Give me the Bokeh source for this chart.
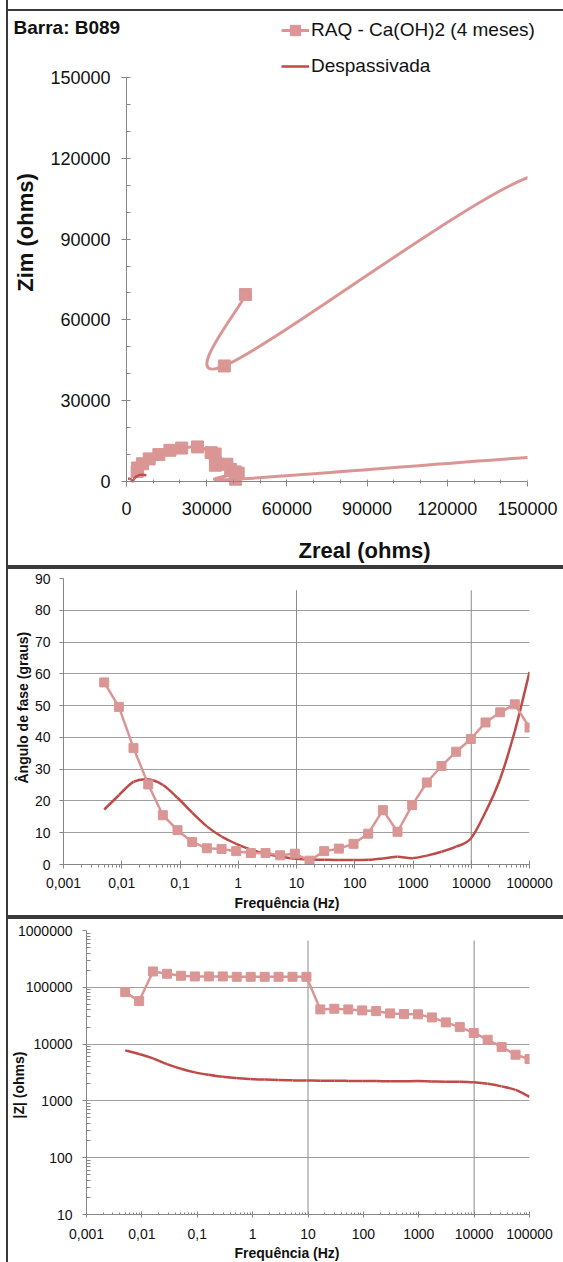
import numpy as np
from bokeh.plotting import figure
from bokeh.models import (FixedTicker, Legend, LegendItem, Title, Range1d, Label,
                          BoxAnnotation, ColumnDataSource, CDSView, BooleanFilter)
from bokeh.layouts import column
from bokeh.embed import file_html
from bokeh.resources import INLINE

FONT = "Liberation Sans"
PINK = "#DA9694"
RED = "#BE4B48"
AXIS_GRAY = "#868686"
GRID_GRAY = "#a0a0a0"
INK = "#3a3a3a"

# ---- impedance data (30 frequencies, low to high) ----
freq = [0.005, 0.00893, 0.0159, 0.0285, 0.0508, 0.0907, 0.162, 0.289, 0.517, 0.923,
        1.65, 2.94, 5.25, 9.37, 16.7, 29.9, 53.4, 95.3, 170, 304,
        542, 968, 1728, 3085, 5510, 9840, 17570, 31370, 55990, 100000]

raq_phase = [57.3, 49.6, 36.7, 25.2, 15.5, 10.8, 7.1, 5.1, 4.9, 4.2,
             3.6, 3.6, 2.9, 3.4, 1.2, 4.2, 5.0, 6.5, 9.7, 17.1,
             10.3, 18.7, 25.8, 31.0, 35.5, 39.5, 44.7, 47.9, 50.4, 43.1]
raq_modz = [82400, 57200, 190000, 173000, 159500, 155300, 155300, 155300, 153000, 153000,
            153000, 153000, 153000, 153000, 40800, 41900, 40800, 39200, 38100, 34700,
            33800, 33400, 29500, 24100, 19950, 15700, 11950, 8870, 6510, 5460]
raq_zreal = [44500, 36600, 152300, 156500, 153700, 152500, 154100, 154700, 152400, 152600,
             152700, 152700, 152800, 152700, 40790, 41790, 40650, 38950, 37560, 33170,
             33260, 31640, 26560, 20660, 16240, 12110, 8490, 5950, 4150, 3990]
raq_zim = [69400, 42900, 113500, 73700, 42600, 29100, 19200, 13800, 13100, 11200,
           9600, 9600, 7700, 9100, 850, 3070, 3560, 4440, 6420, 10200,
           6040, 10710, 12840, 12410, 11580, 9990, 8400, 6580, 5020, 3730]

desp_phase = [17.3, 21.8, 26.0, 26.8, 25.0, 21.0, 16.3, 12.0, 8.8, 6.5,
              4.7, 3.4, 2.5, 1.8, 1.6, 1.5, 1.4, 1.4, 1.5, 1.9,
              2.4, 2.0, 2.8, 4.0, 5.6, 8.2, 16.5, 27.0, 42.0, 60.6]
desp_modz = [7760, 6700, 5600, 4450, 3680, 3180, 2880, 2650, 2530, 2430,
             2370, 2330, 2300, 2280, 2270, 2260, 2250, 2240, 2230, 2220,
             2220, 2230, 2200, 2180, 2170, 2120, 2000, 1800, 1560, 1180]
desp_zreal = [7410, 6220, 5030, 3970, 3340, 2970, 2760, 2590, 2500, 2410,
              2360, 2330, 2300, 2280, 2270, 2260, 2250, 2240, 2230, 2220,
              2220, 2230, 2200, 2170, 2160, 2100, 1920, 1610, 1160, 580]
desp_zim = [2310, 2490, 2450, 2010, 1560, 1140, 810, 550, 390, 280,
            190, 140, 100, 70, 60, 60, 55, 55, 60, 70,
            90, 80, 110, 150, 210, 300, 570, 820, 1040, 1030]

# ---- axis ticks and labels ----
nyq_ticks = [0, 30000, 60000, 90000, 120000, 150000]
nyq_labels = ["0", "30000", "60000", "90000", "120000", "150000"]
nyq_minor = list(range(0, 150001, 10000))

freq_ticks = [0.001, 0.01, 0.1, 1, 10, 100, 1000, 10000, 100000]
freq_labels = ["0,001", "0,01", "0,1", "1", "10", "100", "1000", "10000", "100000"]
freq_minor = [k * 10.0 ** d for d in range(-3, 5) for k in range(2, 10)]

phase_ticks = [0, 10, 20, 30, 40, 50, 60, 70, 80, 90]
modz_ticks = [10, 100, 1000, 10000, 100000, 1000000]
modz_labels = ["10", "100", "1000", "10000", "100000", "1000000"]
modz_minor = [k * 10.0 ** d for d in range(1, 6) for k in range(2, 10)]

guide_freqs = [10, 10000]
phase_guide_top = 86.3
modz_guide_top = 667000


def smooth_segments(x, y, logx=False, logy=False):
    """Cubic Bezier pieces (Catmull-Rom tangents) passing through every point."""
    fx = np.log10(x) if logx else np.asarray(x, float)
    fy = np.log10(y) if logy else np.asarray(y, float)
    P = np.column_stack([fx, fy])
    prev = np.vstack([P[:1], P[:-1]])
    nxt = np.vstack([P[1:], P[-1:]])
    tan = (nxt - prev) / 6.0
    a, b = P[:-1], P[1:]
    c0, c1 = a + tan[:-1], b - tan[1:]
    bx = (lambda v: 10 ** v) if logx else (lambda v: v)
    by = (lambda v: 10 ** v) if logy else (lambda v: v)
    return dict(x0=bx(a[:, 0]), y0=by(a[:, 1]), x1=bx(b[:, 0]), y1=by(b[:, 1]),
                cx0=bx(c0[:, 0]), cy0=by(c0[:, 1]), cx1=bx(c1[:, 0]), cy1=by(c1[:, 1]))


def panel_border(height, top_line=None, bottom_line=None):
    grad = f"linear-gradient({INK},{INK})"
    imgs, sizes, pos = [grad], [f"2px {height}px"], ["6px 0px"]
    if top_line is not None:
        imgs.append(grad); sizes.append("560px 2px"); pos.append(f"6px {top_line}px")
    if bottom_line is not None:
        imgs.append(grad); sizes.append("560px 2px"); pos.append(f"6px {bottom_line}px")
    return {"background-image": ", ".join(imgs), "background-size": ", ".join(sizes),
            "background-position": ", ".join(pos), "background-repeat": "no-repeat"}


def style_axis(ax, size, tin, tout, min_in, min_out, standoff):
    ax.axis_line_color = AXIS_GRAY
    ax.major_tick_line_color = AXIS_GRAY
    ax.minor_tick_line_color = AXIS_GRAY
    ax.major_tick_in = tin
    ax.major_tick_out = tout
    ax.minor_tick_in = min_in
    ax.minor_tick_out = min_out
    ax.major_label_standoff = standoff
    ax.major_label_text_font = FONT
    ax.major_label_text_font_size = size
    ax.major_label_text_color = "#111111"


def axis_title(text, size, offset, standoff):
    return Title(text=text, align="left", offset=offset, standoff=standoff,
                 text_font=FONT, text_font_size=size, text_font_style="bold",
                 text_color="#111111")


def panel_text(text, sx, sy, size, bold=False, angle=0, align="left"):
    # sx, sy: pixel position inside the panel, measured from its top-left corner
    return Label(x=sx - FR_LEFT, y=FR_BOTTOM - sy, x_units="screen", y_units="screen",
                 text=text, angle=angle, angle_units="deg", text_align=align,
                 text_baseline="middle", text_font=FONT, text_font_size=size,
                 text_font_style="bold" if bold else "normal", text_color="#111111")


common = dict(output_backend="svg", toolbar_location=None, tools="",
              background_fill_color=None, border_fill_color=None, frame_align=False)

# ---- Nyquist panel ----
# The plotting area fills the whole panel so that the heading, the key and the
# axis titles sit inside it; both axes are pinned at zero and stop at 150000.
NYQ_MAX = nyq_ticks[-1]
FR_LEFT, FR_TOP, FR_BOTTOM = 8, 11, 563   # plotting area inside the 563 x 567 panel
ZERO_X, ZERO_Y = 126, 481                 # pixel position of Zreal = 0 / Zim = 0
AX_W, AX_H = 401, 404                     # pixels spanned by 0..150000 on each axis
FR_W, FR_H = 563 - FR_LEFT, FR_BOTTOM - FR_TOP
ux, uy = NYQ_MAX / AX_W, NYQ_MAX / AX_H
p1 = figure(frame_width=FR_W, frame_height=FR_H, min_border_left=FR_LEFT, min_border_right=0,
            min_border_top=FR_TOP, min_border_bottom=567 - FR_BOTTOM,
            x_range=Range1d(-(ZERO_X - FR_LEFT) * ux, (FR_LEFT + FR_W - ZERO_X) * ux),
            y_range=Range1d(-(FR_BOTTOM - ZERO_Y) * uy, (ZERO_Y - FR_TOP) * uy), **common)
p1.styles = panel_border(567, top_line=9, bottom_line=565)
p1.outline_line_color = None
p1.grid.visible = False
p1.xaxis.ticker = FixedTicker(ticks=nyq_ticks, minor_ticks=nyq_minor)
p1.yaxis.ticker = FixedTicker(ticks=nyq_ticks, minor_ticks=nyq_minor)
p1.xaxis.major_label_overrides = dict(zip(nyq_ticks, nyq_labels))
p1.yaxis.major_label_overrides = dict(zip(nyq_ticks, nyq_labels))
p1.xaxis.bounds = (0, NYQ_MAX)
p1.yaxis.bounds = (0, NYQ_MAX)
p1.xaxis.fixed_location = 0
p1.yaxis.fixed_location = 0
style_axis(p1.xaxis[0], "18px", 0, 5, 2, 2, 15)
style_axis(p1.yaxis[0], "18px", 0, 5, 4, 0, 11)

raq_src = ColumnDataSource(dict(x=raq_zreal, y=raq_zim))
in_view = CDSView(filter=BooleanFilter([v <= NYQ_MAX for v in raq_zreal]))

r_raq_line = p1.bezier(source=smooth_segments(raq_zreal, raq_zim), line_color=PINK, line_width=3)
r_raq_pts = p1.scatter("x", "y", source=raq_src, view=in_view, marker="square", size=12,
                       fill_color=PINK, line_color=PINK)
r_desp = p1.bezier(source=smooth_segments(desp_zreal, desp_zim), line_color=RED, line_width=2.5)

# hide whatever lies beyond Zreal = 150000
p1.add_layout(BoxAnnotation(left=NYQ_MAX, bottom=0, fill_color="white", fill_alpha=1.0,
                            line_alpha=0.0))

p1.add_layout(panel_text("Zreal (ohms)", 364, 550, "22px", bold=True, align="center"))
p1.add_layout(panel_text("Zim (ohms)", 25, 232, "22px", bold=True, angle=90, align="center"))
p1.add_layout(panel_text("Barra: B089", 13, 27, "19px", bold=True))

legend = Legend(items=[LegendItem(label="RAQ - Ca(OH)2 (4 meses)", renderers=[r_raq_line, r_raq_pts]),
                       LegendItem(label="Despassivada", renderers=[r_desp])],
                location=(281 - FR_LEFT, FR_BOTTOM - 79), padding=0, margin=0, spacing=10,
                glyph_width=28, glyph_height=26, label_height=26, label_standoff=2,
                label_text_font=FONT, label_text_font_size="19px", label_text_color="#111111",
                border_line_color=None, background_fill_color=None)
p1.add_layout(legend)

# ---- phase angle panel ----
p2 = figure(frame_width=466, frame_height=286, min_border_left=63, min_border_right=34,
            min_border_top=11, min_border_bottom=53, x_axis_type="log",
            x_range=Range1d(0.001, 100000), y_range=Range1d(0, 90), **common)
p2.styles = panel_border(350, top_line=0, bottom_line=348)
p2.outline_line_color = None
p2.xgrid.visible = False
p2.ygrid.grid_line_color = GRID_GRAY
p2.xaxis.ticker = FixedTicker(ticks=freq_ticks, minor_ticks=freq_minor)
p2.xaxis.major_label_overrides = dict(zip(freq_ticks, freq_labels))
p2.yaxis.ticker = FixedTicker(ticks=phase_ticks)
style_axis(p2.xaxis[0], "14px", 4, 4, 0, 3, 9)
style_axis(p2.yaxis[0], "14px", 0, 4, 0, 0, 9)
p2.segment(x0=guide_freqs, y0=[0, 0], x1=guide_freqs, y1=[phase_guide_top] * 2,
           line_color="#8a8a8a", line_width=1)
p2.bezier(source=smooth_segments(freq, desp_phase, logx=True), line_color=RED, line_width=2.5)
p2.line(freq, raq_phase, line_color=PINK, line_width=2.5)
p2.scatter(freq, raq_phase, marker="square", size=9, fill_color=PINK, line_color=PINK)
p2.add_layout(axis_title("Frequência (Hz)", "14px", 171, 4), "below")
p2.add_layout(axis_title("Ângulo de fase (graus)", "14px", 81, 1), "left")

# ---- impedance modulus panel ----
p3 = figure(frame_width=443, frame_height=284, min_border_left=86, min_border_right=34,
            min_border_top=13, min_border_bottom=48, x_axis_type="log", y_axis_type="log",
            x_range=Range1d(0.001, 100000), y_range=Range1d(10, 1000000), **common)
p3.styles = panel_border(345, top_line=0)
p3.outline_line_color = None
p3.xgrid.visible = False
p3.ygrid.grid_line_color = GRID_GRAY
p3.xaxis.ticker = FixedTicker(ticks=freq_ticks, minor_ticks=freq_minor)
p3.xaxis.major_label_overrides = dict(zip(freq_ticks, freq_labels))
p3.yaxis.ticker = FixedTicker(ticks=modz_ticks, minor_ticks=modz_minor)
p3.yaxis.major_label_overrides = dict(zip(modz_ticks, modz_labels))
style_axis(p3.xaxis[0], "14px", 3, 3, 2, 0, 11)
style_axis(p3.yaxis[0], "14px", 0, 4, 4, 0, 10)
p3.segment(x0=guide_freqs, y0=[10, 10], x1=guide_freqs, y1=[modz_guide_top] * 2,
           line_color="#8a8a8a", line_width=1)
p3.bezier(source=smooth_segments(freq, desp_modz, logx=True, logy=True), line_color=RED, line_width=2.5)
p3.line(freq, raq_modz, line_color=PINK, line_width=2.5)
p3.scatter(freq, raq_modz, marker="square", size=9, fill_color=PINK, line_color=PINK)
p3.add_layout(axis_title("Frequência (Hz)", "14px", 148, 2), "below")
p3.add_layout(axis_title("|Z| (ohms)", "14px", 96, -25), "left")

layout = column(p1, p2, p3, spacing=0)
open("out.html", "w").write(file_html(layout, INLINE))
